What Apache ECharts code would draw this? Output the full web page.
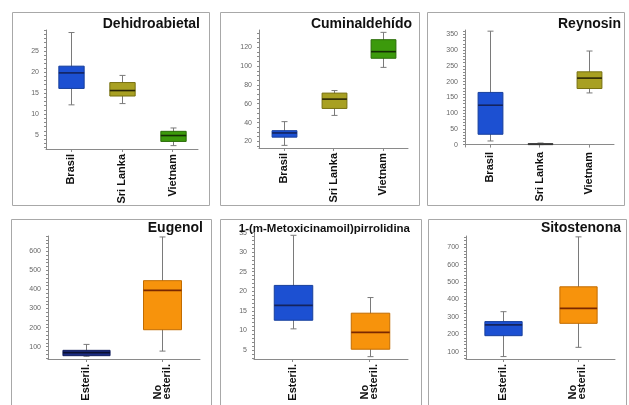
<!DOCTYPE html>
<html>
<head>
<meta charset="utf-8">
<script src="https://cdn.jsdelivr.net/npm/echarts@6/dist/echarts.min.js"></script>
<style>
html,body{margin:0;padding:0;background:#fff;}
#chart{width:629px;height:405px;}
</style>
</head>
<body>
<div id="chart"></div>
<script>
// ---------- data: [min, Q1, median, Q3, max] per category ----------
const countryCats = ['Brasil', 'Sri Lanka', 'Vietnam'];
const sterilCats = ['Esteril.', 'No\nesteril.'];

const dehidroBox = [[12.2, 16.1, 19.8, 21.4, 29.4], [12.5, 14.3, 15.6, 17.5, 19.2], [2.5, 3.5, 4.9, 5.9, 6.7]];
const cuminBox = [[15.8, 24.5, 29, 31.4, 41], [47.6, 55, 64.9, 71.3, 74], [98.6, 108.3, 115.3, 128, 135.8]];
const reynosinBox = [[11.5, 32.8, 125, 165.6, 360], [0, 0.5, 1.5, 3, 5], [164, 178, 211, 231, 297]];
const eugenolBox = [[50, 53, 69, 81, 112], [77, 189, 395, 446, 675]];
const metoxiBox = [[10.4, 12.6, 16.4, 21.5, 34.3], [3.3, 5.2, 9.5, 14.4, 18.4]];
const sitostBox = [[72, 192, 254, 273, 330], [125, 263, 349, 473, 760]];

const dehidroTicks = [5, 10, 15, 20, 25];
const cuminTicks = [20, 40, 60, 80, 100, 120];
const reynosinTicks = [0, 50, 100, 150, 200, 250, 300, 350];
const eugenolTicks = [100, 200, 300, 400, 500, 600];
const metoxiTicks = [5, 10, 15, 20, 25, 30, 35];
const sitostTicks = [100, 200, 300, 400, 500, 600, 700];

// ---------- styles ----------
const FONT = '"Liberation Sans", Arial, Helvetica, sans-serif';
const BLUE = {fill: '#1c50d2', border: '#173f9c', median: '#14245e'};
const OLIVE = {fill: '#a8a022', border: '#77700f', median: '#2a2606'};
const GREEN = {fill: '#3c9a0c', border: '#2a6c08', median: '#142e04'};
const NAVY = {fill: '#1c2d85', border: '#121e5c', median: '#0a1030'};
const ORANGE = {fill: '#f7930c', border: '#c26c00', median: '#7a2800'};
const GRAY = {fill: '#9a9a8a', border: '#555', median: '#333'};

function minorList(lo, hi, step) {
  const out = [];
  const start = Math.ceil(lo / step) * step;
  for (let v = start; v <= hi + 1e-9; v += step) out.push(Math.round(v * 1000) / 1000);
  return out;
}

const panels = [
  {title: 'Dehidroabietal', cats: countryCats, box: dehidroBox, ticks: dehidroTicks, minor: 1, min: 1.7, max: 30,
   grid: {left: 46, top: 30, width: 152, height: 119}, colors: [BLUE, OLIVE, GREEN], widths: [0.5, 0.5, 0.5],
   tx: 200, ty: 24, ts: 14, frame: [12.5, 12.5, 197, 193]},
  {title: 'Cuminaldehído', cats: countryCats, box: cuminBox, ticks: cuminTicks, minor: 5, min: 13, max: 138.3,
   grid: {left: 259, top: 30, width: 149, height: 118}, colors: [BLUE, OLIVE, GREEN], widths: [0.5, 0.5, 0.5],
   tx: 412, ty: 24, ts: 14, frame: [220.5, 12.5, 199, 193]},
  {title: 'Reynosin', cats: countryCats, box: reynosinBox, ticks: reynosinTicks, minor: 10, min: -7.6, max: 363.7,
   grid: {left: 465, top: 30, width: 149, height: 117}, colors: [BLUE, GRAY, OLIVE], widths: [0.5, 0.5, 0.5],
   tx: 621, ty: 24, ts: 14, frame: [427.5, 12.5, 197, 193]},
  {title: 'Eugenol', cats: sterilCats, box: eugenolBox, ticks: eugenolTicks, minor: 20, min: 35.6, max: 680,
   grid: {left: 48, top: 236, width: 152, height: 123}, colors: [NAVY, ORANGE], widths: [0.62, 0.5],
   tx: 203, ty: 228, ts: 14, frame: [11.5, 219.5, 200, 190]},
  {title: '1-(m-Metoxicinamoil)pirrolidina', cats: sterilCats, box: metoxiBox, ticks: metoxiTicks, minor: 1, min: 2.7, max: 35.4,
   grid: {left: 254, top: 231, width: 154, height: 128}, colors: [BLUE, ORANGE], widths: [0.5, 0.5],
   tx: 410, ty: 228.5, ts: 11.5, frame: [220.5, 219.5, 201, 190]},
  {title: 'Sitostenona', cats: sterilCats, box: sitostBox, ticks: sitostTicks, minor: 20, min: 58, max: 765,
   grid: {left: 466, top: 236, width: 149, height: 123}, colors: [BLUE, ORANGE], widths: [0.5, 0.5],
   tx: 621, ty: 228, ts: 14, frame: [428.5, 219.5, 198, 190]}
];

const AXIS_COLOR = '#8a8a8a';

const option = {
  animation: false,
  backgroundColor: '#fff',
  grid: panels.map(p => Object.assign({containLabel: false}, p.grid)),
  xAxis: panels.map((p, i) => ({
    type: 'category', gridIndex: i, data: p.cats, boundaryGap: true,
    axisLine: {show: true, lineStyle: {color: AXIS_COLOR, width: 1}},
    axisTick: {show: true, alignWithLabel: true, length: 3, lineStyle: {color: AXIS_COLOR}},
    splitLine: {show: false},
    axisLabel: {
      rotate: 90, margin: 5, interval: 0,
      formatter: v => v.split('\n').map(s => '{l|' + s + '}').join('\n'),
      rich: {l: {align: 'left', fontFamily: FONT, fontWeight: 'bold', fontSize: 11, color: '#111', lineHeight: 9}}
    }
  })),
  yAxis: panels.map((p, i) => ({
    type: 'value', gridIndex: i, min: p.min, max: p.max,
    axisLine: {show: true, lineStyle: {color: AXIS_COLOR, width: 1}},
    axisTick: {show: true, length: 2, customValues: minorList(p.min, p.max, p.minor), lineStyle: {color: AXIS_COLOR}},
    splitLine: {show: false},
    axisLabel: {customValues: p.ticks, fontFamily: FONT, fontSize: 7, color: '#666', margin: 7}
  })),
  graphic: panels.map(p => ({
    type: 'rect', silent: true, z: 0,
    shape: {x: p.frame[0], y: p.frame[1], width: p.frame[2], height: p.frame[3]},
    style: {fill: 'none', stroke: '#a8a8a8', lineWidth: 1}
  })).concat(panels.map(p => ({
    type: 'text', silent: true, z: 10,
    style: {text: p.title, x: p.tx, y: p.ty, textAlign: 'right', textVerticalAlign: 'middle',
            font: 'bold ' + p.ts + 'px ' + FONT, fill: '#111'}
  }))),
  series: panels.map((p, pi) => ({
    type: 'custom', xAxisIndex: pi, yAxisIndex: pi,
    data: p.box.map((b, ci) => [ci].concat(b)),
    encode: {x: 0, y: [1, 2, 3, 4, 5]},
    clip: false,
    renderItem: function (params, api) {
      const panel = panels[params.seriesIndex];
      const ci = api.value(0);
      const c = panel.colors[ci];
      const band = api.size([1, 0])[0];
      const half = band * panel.widths[ci] / 2;
      const pMin = api.coord([ci, api.value(1)]);
      const pQ1 = api.coord([ci, api.value(2)]);
      const pMed = api.coord([ci, api.value(3)]);
      const pQ3 = api.coord([ci, api.value(4)]);
      const pMax = api.coord([ci, api.value(5)]);
      const x = Math.round(pMin[0]) + 0.5;
      const cap = 3;
      const ws = {stroke: '#7a7a7a', lineWidth: 1};
      return {
        type: 'group',
        children: [
          {type: 'line', shape: {x1: x, y1: pMax[1], x2: x, y2: pMin[1]}, style: ws},
          {type: 'line', shape: {x1: x - cap, y1: pMax[1], x2: x + cap, y2: pMax[1]}, style: ws},
          {type: 'line', shape: {x1: x - cap, y1: pMin[1], x2: x + cap, y2: pMin[1]}, style: ws},
          {type: 'rect', shape: {x: x - half, y: pQ3[1], width: 2 * half, height: Math.max(pQ1[1] - pQ3[1], 1)},
           style: {fill: c.fill, stroke: c.border, lineWidth: 1}},
          {type: 'line', shape: {x1: x - half, y1: pMed[1], x2: x + half, y2: pMed[1]},
           style: {stroke: c.median, lineWidth: 1.6}}
        ]
      };
    }
  }))
};

const chart = echarts.init(document.getElementById('chart'), null, {renderer: 'canvas'});
chart.setOption(option);
</script>
</body>
</html>
